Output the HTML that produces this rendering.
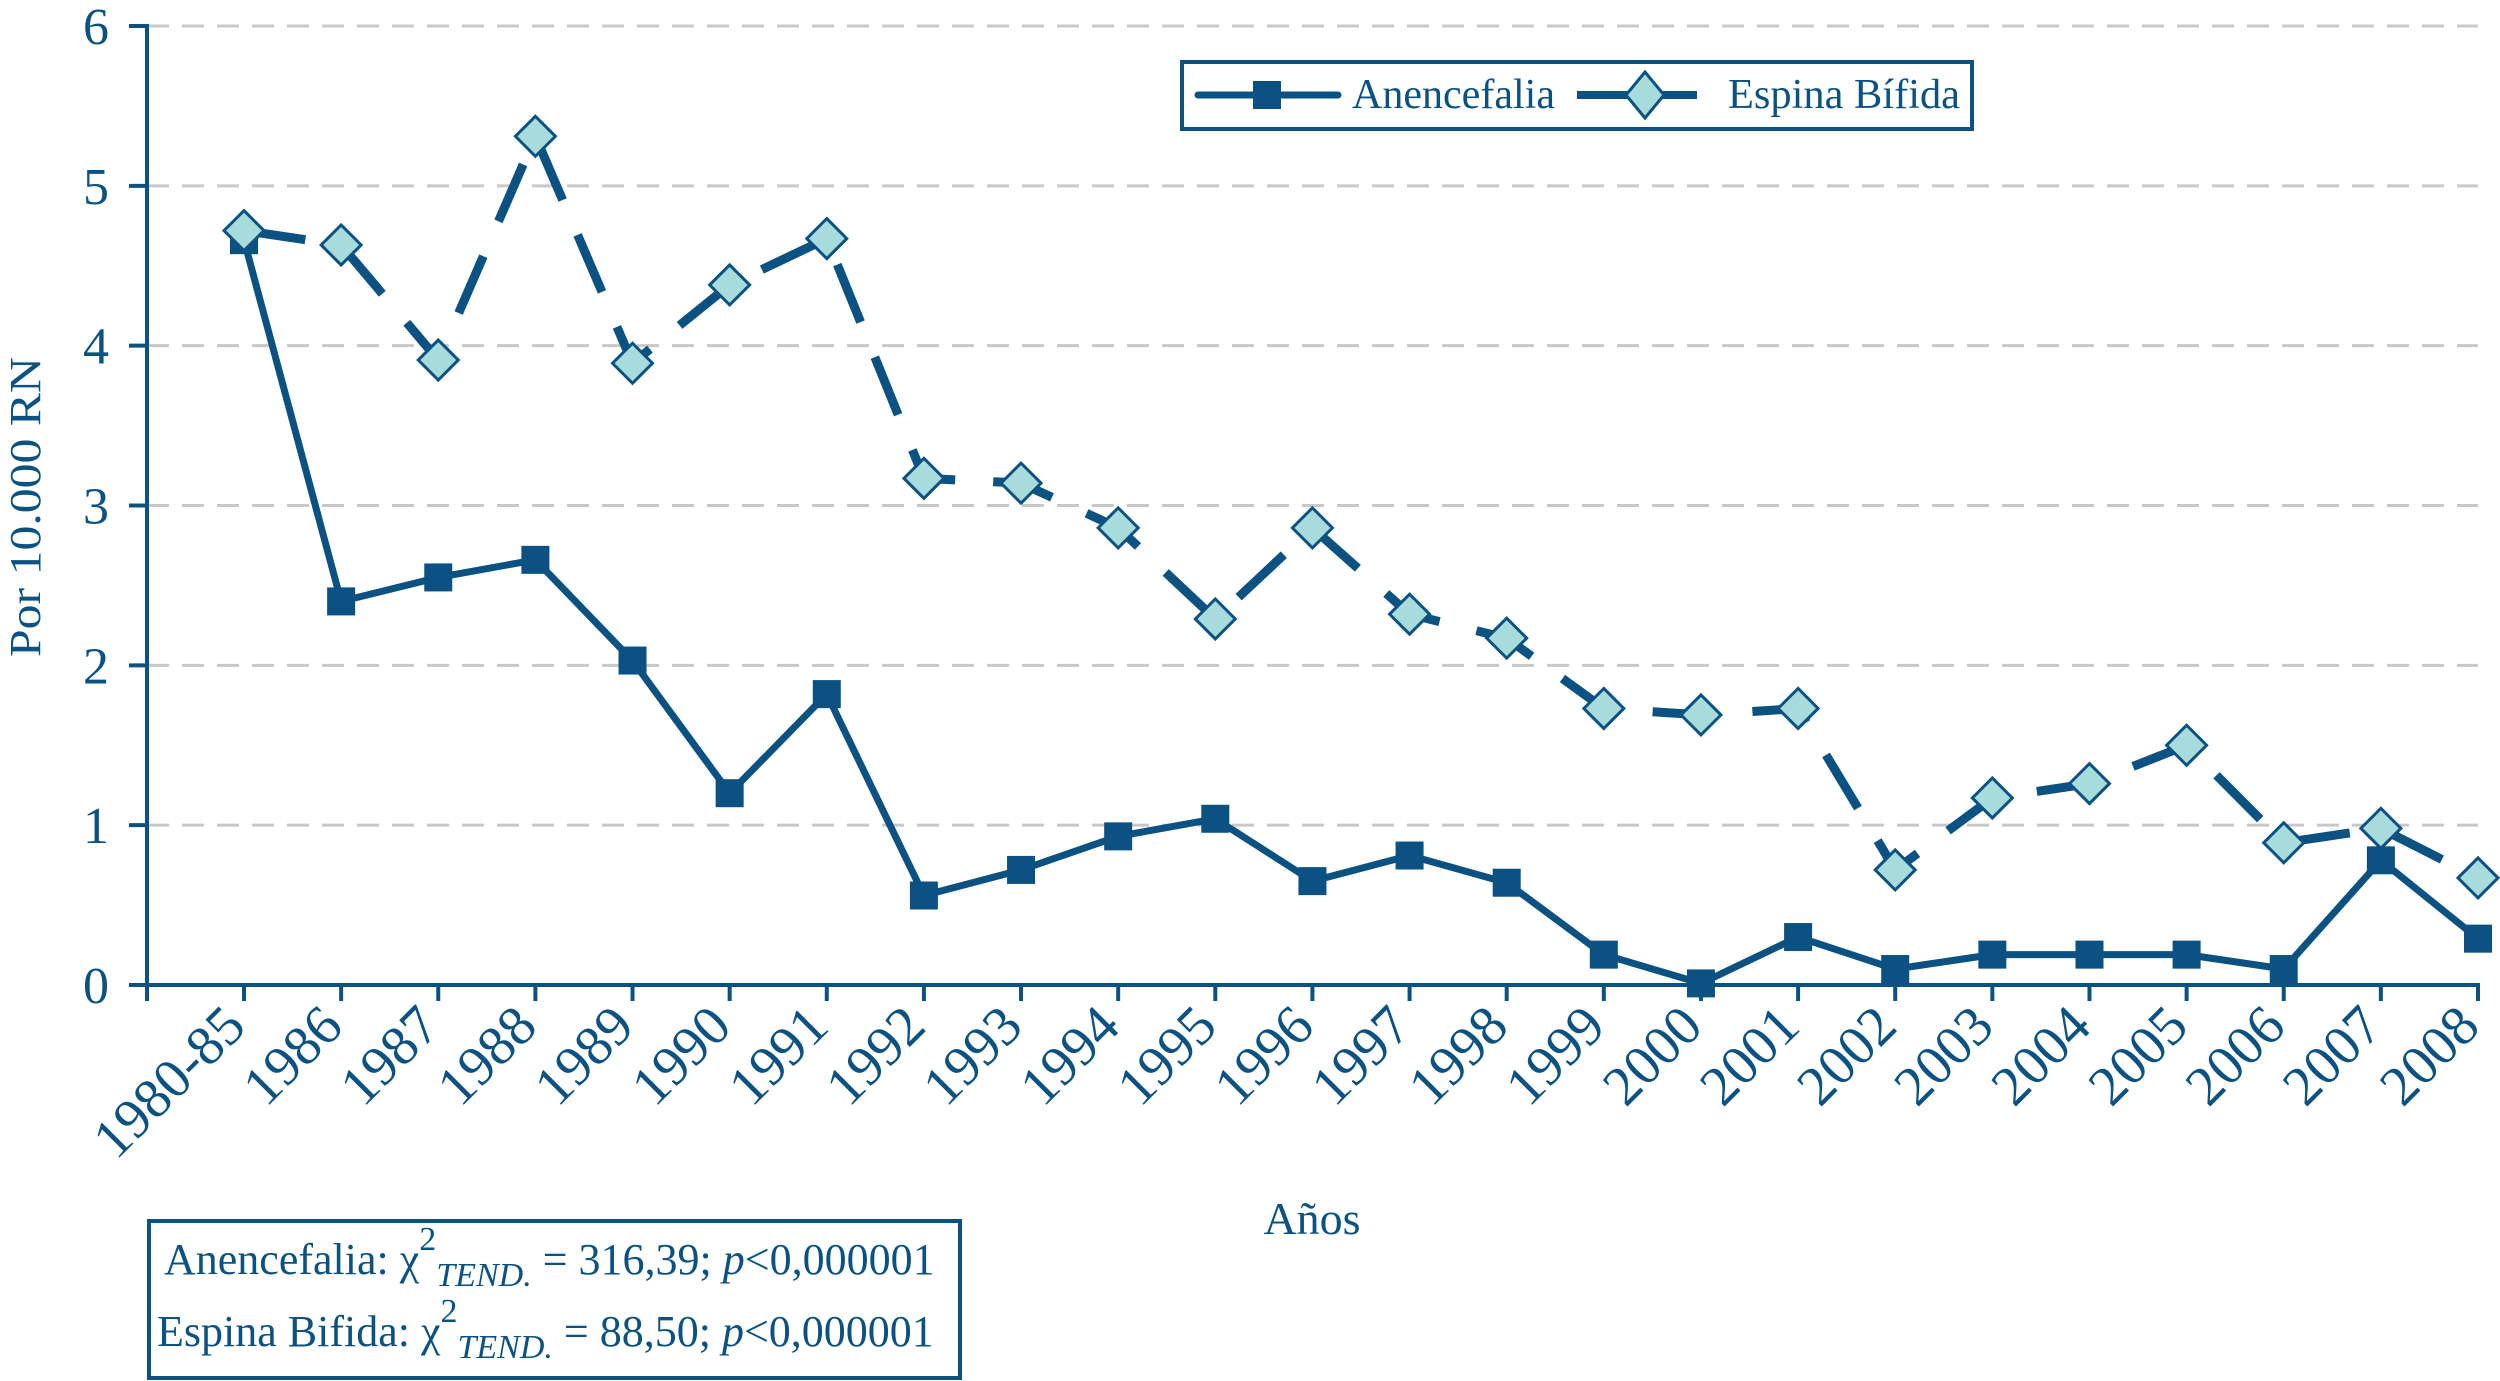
<!DOCTYPE html>
<html><head><meta charset="utf-8"><style>
html,body{margin:0;padding:0;background:#fff}
svg{display:block;font-family:"Liberation Serif",serif}
</style></head><body>
<svg id="chart" width="2500" height="1381" viewBox="0 0 2500 1381" xmlns="http://www.w3.org/2000/svg">
<g id="grid"></g>
<g id="series"></g>
<g id="axes"></g>
<text x="0" y="0" transform="translate(40,507) rotate(-90)" text-anchor="middle" font-size="44" fill="#0b5282" textLength="300" lengthAdjust="spacingAndGlyphs">Por 10.000 RN</text>
<text x="1312" y="1234" text-anchor="middle" font-size="46" fill="#0b5282">Años</text>
<g>
<rect x="1182" y="62" width="790" height="67" fill="#fff" stroke="#0b5282" stroke-width="4"/>
<g>
<line x1="1198" y1="95" x2="1338" y2="95" stroke="#0b5282" stroke-width="7" stroke-linecap="round"/>
<rect x="1253" y="81" width="28" height="28" fill="#0b5282"/>
<text x="1352" y="108" font-size="42" fill="#0b5282" textLength="203" lengthAdjust="spacingAndGlyphs">Anencefalia</text>
</g>
<g>
<line x1="1577" y1="95" x2="1712" y2="95" stroke="#0b5282" stroke-width="8" stroke-dasharray="52,16"/>
<polygon points="1645,72 1664,95 1645,118 1626,95" fill="#a8dcdc" stroke="#0b5282" stroke-width="3"/>
<text x="1728" y="108" font-size="42" fill="#0b5282" textLength="232" lengthAdjust="spacingAndGlyphs">Espina Bífida</text>
</g>
</g>
<g>
<rect x="149" y="1221" width="811" height="157" fill="#fff" stroke="#0b5282" stroke-width="4"/>
<text x="164" y="1274" font-size="44" fill="#0b5282">Anencefalia: χ<tspan dy="-24" font-size="34">2</tspan><tspan dy="36" font-style="italic" font-size="34">TEND.</tspan><tspan dy="-12"> = 316,39; </tspan><tspan font-style="italic">p</tspan>&lt;0,000001</text>
<text x="157" y="1346" font-size="44" fill="#0b5282">Espina Bifida: χ<tspan dy="-24" font-size="34">2</tspan><tspan dy="36" font-style="italic" font-size="34">TEND.</tspan><tspan dy="-12"> = 88,50; </tspan><tspan font-style="italic">p</tspan>&lt;0,000001</text>
</g>
</svg>
<script>
const categories = ["1980-85","1986","1987","1988","1989","1990","1991","1992","1993","1994","1995","1996","1997","1998","1999","2000","2001","2002","2003","2004","2005","2006","2007","2008"];
const anencefalia = [4.66,2.4,2.55,2.66,2.03,1.2,1.82,0.56,0.72,0.93,1.04,0.65,0.81,0.64,0.19,0.01,0.3,0.1,0.19,0.19,0.19,0.1,0.78,0.29];
const espinaBifida = [4.72,4.63,3.91,5.31,3.89,4.38,4.67,3.17,3.14,2.86,2.29,2.86,2.32,2.17,1.73,1.69,1.73,0.72,1.17,1.26,1.5,0.89,0.98,0.67];
const yTicks = [0,1,2,3,4,5,6];

const NS = "http://www.w3.org/2000/svg";
const C = "#0b5282";
const X0 = 244, X1 = 2478, AX = 147, Y0 = 985, YTOP = 26;
function xs(i){ return X0 + i*(X1-X0)/(categories.length-1); }
function ys(v){ return Y0 - v*(Y0-YTOP)/6; }
function mk(tag, attrs, parent){ const e=document.createElementNS(NS,tag); for(const k in attrs) e.setAttribute(k,attrs[k]); parent.appendChild(e); return e; }

const grid = document.getElementById('grid');
const axes = document.getElementById('axes');
const series = document.getElementById('series');

yTicks.forEach(t=>{
  if(t>0){
    const g = mk('line',{x1:AX,x2:X1,y1:ys(t),y2:ys(t),stroke:"#c8c8c8","stroke-width":3,"stroke-dasharray":"22,13"},grid);
    
    
  }
  const tk = mk('line',{x1:AX-18,x2:AX,y1:ys(t),y2:ys(t),stroke:C,"stroke-width":4},axes);
  
  
  const lb = mk('text',{x:AX-38,y:ys(t)+18,"text-anchor":"end","font-size":52,fill:C},axes);
  lb.textContent = t;
  
  
});
const ya = mk('line',{x1:AX,x2:AX,y1:YTOP-2,y2:Y0,stroke:C,"stroke-width":4},axes);


const xa = mk('line',{x1:AX-18,x2:X1+2,y1:Y0,y2:Y0,stroke:C,"stroke-width":4},axes);


const tk0 = mk('line',{x1:AX,x2:AX,y1:Y0,y2:Y0+16,stroke:C,"stroke-width":4},axes);


categories.forEach((c,i)=>{
  const x = xs(i);
  const tk = mk('line',{x1:x,x2:x,y1:Y0,y2:Y0+16,stroke:C,"stroke-width":4},axes);
  
  
  const lb = mk('text',{x:0,y:0,"text-anchor":"end","font-size":56,fill:C,transform:`translate(${x+4},${Y0+44}) rotate(-45)`},axes);
  lb.textContent = c;
  
  
});

const eb = mk('polyline',{points:espinaBifida.map((v,i)=>xs(i)+','+ys(v)).join(' '),fill:"none",stroke:C,"stroke-width":9,"stroke-dasharray":"62,38","stroke-linejoin":"round"},series);


const an = mk('polyline',{points:anencefalia.map((v,i)=>xs(i)+','+ys(v)).join(' '),fill:"none",stroke:C,"stroke-width":7,"stroke-linejoin":"round"},series);


anencefalia.forEach((v,i)=>{
  const r = mk('rect',{x:xs(i)-14,y:ys(v)-14,width:28,height:28,fill:C},series);
  
  
});
espinaBifida.forEach((v,i)=>{
  const x=xs(i), y=ys(v), d=20;
  const p = mk('polygon',{points:`${x},${y-d} ${x+d},${y} ${x},${y+d} ${x-d},${y}`,fill:"#a8dcdc",stroke:C,"stroke-width":3},series);
  
  
});
</script>
</body></html>
